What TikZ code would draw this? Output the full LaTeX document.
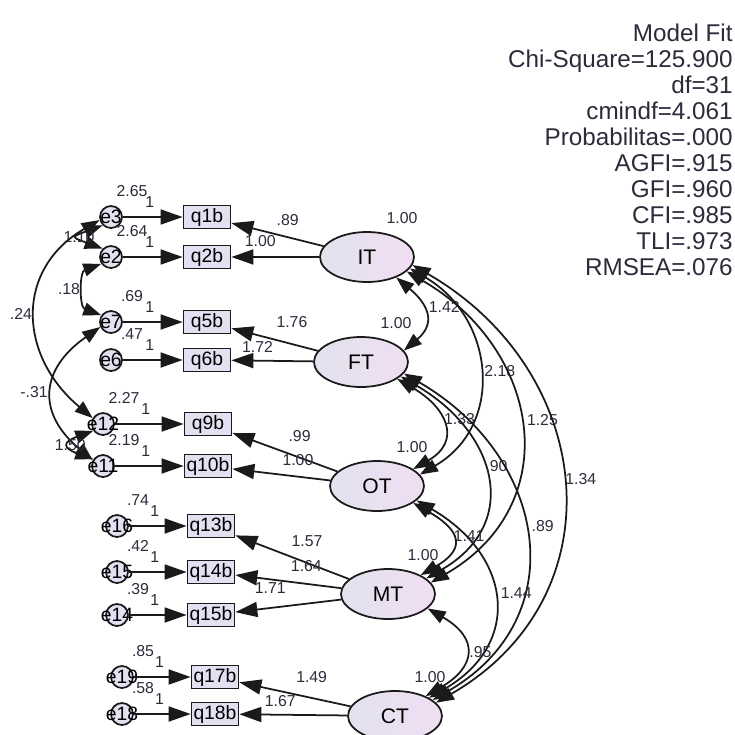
\documentclass[tikz,border=0pt]{standalone}
\usepackage{fontspec}
\setmainfont{Liberation Sans}
\usetikzlibrary{arrows.meta,shapes.geometric}
\definecolor{semink}{HTML}{1A1A1A}
\definecolor{semtext}{HTML}{2B2B3A}
\definecolor{semlav}{HTML}{E4E0F2}
\definecolor{semlavL}{HTML}{E2E2EE}
\definecolor{semlavR}{HTML}{F0DEF2}
\tikzset{
  sem lat/.style={ellipse, draw=semink, line width=1pt, left color=semlavL,
    right color=semlavR, minimum width=18.8mm, minimum height=10mm,
    inner sep=0pt, font=\fontsize{12}{12}\selectfont},
  sem obs/.style={rectangle, draw=semink, line width=1pt, fill=semlav,
    minimum width=9.4mm, minimum height=4.6mm, inner sep=0pt,
    font=\fontsize{11}{11}\selectfont},
  sem err/.style={circle, draw=semink, line width=1pt, fill=semlav,
    minimum size=4.4mm, inner sep=0pt, font=\fontsize{11}{11}\selectfont},
  sem path/.style={-{Triangle[length=4.4mm,width=3mm]}, line width=1pt,
    draw=semink},
  sem cov/.style={{Triangle[length=3.6mm,width=2.6mm]}-{Triangle[length=3.6mm,width=2.6mm]},
    line width=1pt, draw=semink},
  sem lbl/.style={font=\fontsize{9}{9}\selectfont, text=semtext, inner sep=1pt},
  sem fit/.style={font=\fontsize{13.8}{14.74}\selectfont, text=semtext,
    align=right, inner sep=0pt}
}

\begin{document}
\begin{tikzpicture}[x=0.02cm, y=-0.02cm]
  \useasboundingbox (0,0) rectangle (735,735);
  \clip (0,0) rectangle (735,735);

  % latent factors
  \foreach \n/\x/\y in {IT/367/257, FT/361/362, OT/377/486, MT/388/594, CT/395/716} {
    \node[sem lat] (\n) at (\x,\y) {\n};
    \node[sem lbl] at ([shift={(35,-39)}]\n) {1.00};
  }

  % items and their error terms
  \foreach \e/\q/\ex/\qx/\y/\v in {e3/q1b/111/207/217/2.65, e2/q2b/111/207/257/2.64,
      e7/q5b/111/207/322/.69, e6/q6b/111/207/360/.47, e12/q9b/103/208/424/2.27,
      e11/q10b/103/208/466/2.19, e16/q13b/117/211/526/.74, e15/q14b/117/211/572/.42,
      e14/q15b/117/211/615/.39, e19/q17b/122/215/677/.85, e18/q18b/122/215/714/.58} {
    \node[sem err] (\e) at (\ex,\y) {\makebox[0pt]{\e}};
    \node[sem obs] (\q) at (\qx,\y) {\q};
    \draw[sem path] (\e) -- node[sem lbl, pos=.45, above=4pt] {1} (\q);
    \node[sem lbl] at ([shift={(21,-26)}]\e) {\v};
  }

  % loadings
  \foreach \l/\q/\v/\p/\a in {IT/q1b/.89/.39/5.3pt, IT/q2b/1.00/.67/4.2pt,
      FT/q5b/1.76/.30/7.6pt, FT/q6b/1.72/.68/3.3pt, OT/q9b/.99/.36/7.4pt,
      OT/q10b/1.00/.33/4.6pt, MT/q13b/1.57/.37/7.5pt, MT/q14b/1.64/.33/5.3pt,
      MT/q15b/1.71/.67/6.9pt, CT/q17b/1.49/.35/7pt, CT/q18b/1.67/.62/3pt}
    \draw[sem path] (\l) -- node[sem lbl, pos=\p, above=\a] {\v} (\q);

  % error covariances
  \draw[sem cov] (e3.225) to[out=200, in=160, looseness=3.7] node[sem lbl] {1.10} (e2.135);
  \draw[sem cov] (e2.215) to[out=200, in=160, looseness=1.17] node[sem lbl, left=1.2pt] {.18} (e7.145);
  \draw[sem cov] (e3.195) to[out=210, in=140, looseness=1.26] node[sem lbl, left=1pt] {.24} (e12.150);
  \draw[sem cov] (e7.205) to[out=215, in=140, looseness=1.41] node[sem lbl, left=1.4pt] {-.31} (e11.150);
  \draw[sem cov] (e12.215) to[out=200, in=160, looseness=2.95] node[sem lbl] {1.50} (e11.145);

  % factor covariances
  \foreach \fa/\fb/\oa/\ob/\o/\i/\lo/\v/\p/\r in {
      IT/FT/-35/15/-40/40/1.47/1.42/.4/2.3pt,
      IT/OT/-15/15/-30/30/1.22/2.18/.5/1.7pt,
      IT/MT/-20/15/-30/30/1.28/1.25/.48/3pt,
      IT/CT/-10/18/-30/30/1.24/1.34/.49/0.5pt,
      FT/OT/-25/25/-30/30/1.59/1.33/.45/0.5pt,
      FT/MT/-20/22/-30/30/1.39/.90/.45/0pt,
      FT/CT/-15/23/-30/30/1.29/.89/.47/3pt,
      OT/MT/-25/30/-30/30/1.9/1.41/.45/0pt,
      OT/CT/-20/28/-30/30/1.41/1.44/.47/3pt,
      MT/CT/-20/33/-30/30/1.72/.95/.5/1pt}
    \draw[sem cov] (\fa.\oa) to[out=\o, in=\i, looseness=\lo]
      node[sem lbl, pos=\p, right=\r] {\v} (\fb.\ob);

  % fit summary
  \node[sem fit, anchor=north east] (fit) at (733,24) {Model Fit\\Chi-Square=125.900\\df=31\\cmindf=4.061\\Probabilitas=.000\\AGFI=.915\\GFI=.960\\CFI=.985\\TLI=.973\\RMSEA=.076};
\end{tikzpicture}
\end{document}
